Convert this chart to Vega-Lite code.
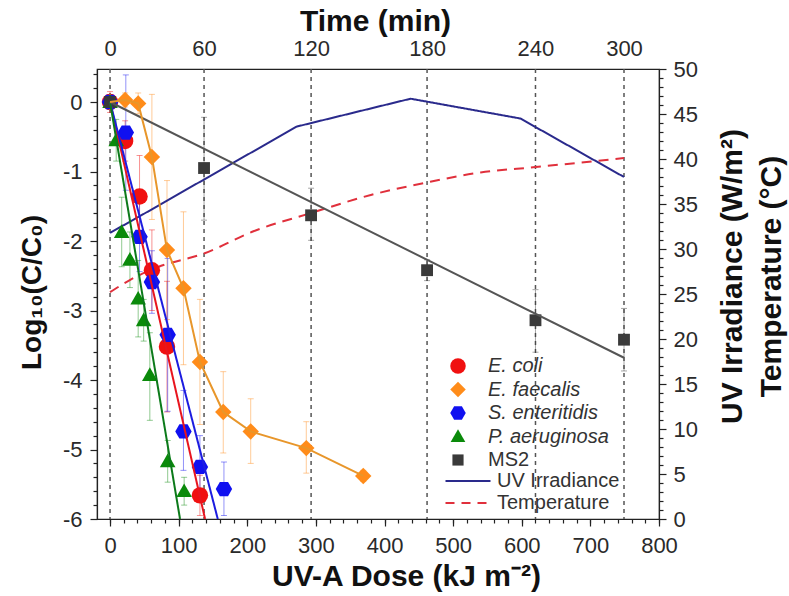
{
  "$schema": "https://vega.github.io/schema/vega-lite/v6.json",
  "width": 562,
  "height": 450,
  "autosize": {"type": "none"},
  "padding": {"left": 97, "top": 69, "right": 130, "bottom": 77},
  "background": "white",
  "config": {
    "font": "Liberation Sans",
    "view": {"stroke": "#222", "strokeWidth": 1.2},
    "axis": {
      "grid": false,
      "labelFlush": false,
      "labelOverlap": false,
      "labelFont": "Liberation Sans",
      "labelFontSize": 22,
      "labelColor": "#2a2a2a",
      "titleFont": "Liberation Sans",
      "titleFontSize": 30,
      "titleFontWeight": "bold",
      "titleColor": "#111",
      "domainColor": "#222",
      "tickColor": "#222",
      "tickWidth": 1.2,
      "domainWidth": 1.2
    },
    "legend": {"labelFont": "Liberation Sans", "labelFontSize": 20, "labelColor": "#333", "padding": 0}
  },
  "datasets": {
    "times": [
      {"time": 0, "dose": 0},
      {"time": 60, "dose": 137},
      {"time": 120, "dose": 293},
      {"time": 180, "dose": 462},
      {"time": 240, "dose": 620},
      {"time": 300, "dose": 749}
    ],
    "obs": [
      {"org": "E. coli", "dose": 0, "logr": 0, "lo": -0.15, "hi": 0.15},
      {"org": "E. coli", "dose": 22, "logr": -0.56, "lo": -0.85, "hi": -0.27},
      {"org": "E. coli", "dose": 43, "logr": -1.36, "lo": -1.95, "hi": -0.77},
      {"org": "E. coli", "dose": 61, "logr": -2.42, "lo": -3.0, "hi": -1.84},
      {"org": "E. coli", "dose": 83, "logr": -3.52, "lo": -4.46, "hi": -2.58},
      {"org": "E. coli", "dose": 131, "logr": -5.66, "lo": -5.95, "hi": -5.37},
      {"org": "E. faecalis", "dose": 0, "logr": 0, "lo": -0.1, "hi": 0.1},
      {"org": "E. faecalis", "dose": 22, "logr": 0.03, "lo": -0.07, "hi": 0.13},
      {"org": "E. faecalis", "dose": 41, "logr": -0.02, "lo": -0.17, "hi": 0.13},
      {"org": "E. faecalis", "dose": 61, "logr": -0.79, "lo": -1.69, "hi": 0.11},
      {"org": "E. faecalis", "dose": 83, "logr": -2.13, "lo": -3.13, "hi": -1.13},
      {"org": "E. faecalis", "dose": 107, "logr": -2.68, "lo": -3.78, "hi": -1.58},
      {"org": "E. faecalis", "dose": 131, "logr": -3.74, "lo": -4.64, "hi": -2.84},
      {"org": "E. faecalis", "dose": 165, "logr": -4.46, "lo": -5.05, "hi": -3.88},
      {"org": "E. faecalis", "dose": 205, "logr": -4.74, "lo": -5.2, "hi": -4.27},
      {"org": "E. faecalis", "dose": 286, "logr": -4.98, "lo": -5.34, "hi": -4.6},
      {"org": "E. faecalis", "dose": 369, "logr": -5.38, "lo": -5.46, "hi": -5.3},
      {"org": "S. enteritidis", "dose": 0, "logr": 0, "lo": -0.1, "hi": 0.1},
      {"org": "S. enteritidis", "dose": 23, "logr": -0.44, "lo": -1.27, "hi": 0.39},
      {"org": "S. enteritidis", "dose": 43, "logr": -1.94, "lo": -2.44, "hi": -1.44},
      {"org": "S. enteritidis", "dose": 61, "logr": -2.59, "lo": -3.04, "hi": -2.14},
      {"org": "S. enteritidis", "dose": 84, "logr": -3.35, "lo": -4.45, "hi": -2.25},
      {"org": "S. enteritidis", "dose": 107, "logr": -4.74, "lo": -5.3, "hi": -4.15},
      {"org": "S. enteritidis", "dose": 131, "logr": -5.25, "lo": -5.7, "hi": -4.8},
      {"org": "S. enteritidis", "dose": 166, "logr": -5.57, "lo": -5.95, "hi": -5.18},
      {"org": "P. aeruginosa", "dose": 0, "logr": 0, "lo": -0.1, "hi": 0.1},
      {"org": "P. aeruginosa", "dose": 9, "logr": -0.55, "lo": -0.85, "hi": -0.25},
      {"org": "P. aeruginosa", "dose": 17, "logr": -1.87, "lo": -2.37, "hi": -1.37},
      {"org": "P. aeruginosa", "dose": 29, "logr": -2.27, "lo": -2.67, "hi": -1.87},
      {"org": "P. aeruginosa", "dose": 41, "logr": -2.83, "lo": -3.38, "hi": -2.28},
      {"org": "P. aeruginosa", "dose": 49, "logr": -3.14, "lo": -3.44, "hi": -2.84},
      {"org": "P. aeruginosa", "dose": 58, "logr": -3.93, "lo": -4.58, "hi": -3.32},
      {"org": "P. aeruginosa", "dose": 84, "logr": -5.17, "lo": -5.47, "hi": -4.87},
      {"org": "P. aeruginosa", "dose": 108, "logr": -5.6, "lo": -5.8, "hi": -5.4},
      {"org": "MS2", "dose": 0, "logr": 0, "lo": -0.1, "hi": 0.1},
      {"org": "MS2", "dose": 137, "logr": -0.95, "lo": -1.7, "hi": -0.22},
      {"org": "MS2", "dose": 293, "logr": -1.63, "lo": -1.99, "hi": -1.24},
      {"org": "MS2", "dose": 462, "logr": -2.42, "lo": -2.57, "hi": -2.27},
      {"org": "MS2", "dose": 620, "logr": -3.14, "lo": -3.6, "hi": -2.7},
      {"org": "MS2", "dose": 749, "logr": -3.42, "lo": -3.87, "hi": -2.97}
    ],
    "fits": [
      {"org": "E. coli", "dose": 0, "logr": 0},
      {"org": "E. coli", "dose": 138.5, "logr": -6},
      {"org": "S. enteritidis", "dose": 0, "logr": 0},
      {"org": "S. enteritidis", "dose": 157, "logr": -6},
      {"org": "P. aeruginosa", "dose": 0, "logr": 0},
      {"org": "P. aeruginosa", "dose": 102, "logr": -6},
      {"org": "MS2", "dose": 0, "logr": 0},
      {"org": "MS2", "dose": 749, "logr": -3.68}
    ],
    "env": [
      {"measure": "UV Irradiance", "dose": 0, "value": 31.8},
      {"measure": "UV Irradiance", "dose": 40, "value": 33.5},
      {"measure": "UV Irradiance", "dose": 272, "value": 43.6},
      {"measure": "UV Irradiance", "dose": 438, "value": 46.7},
      {"measure": "UV Irradiance", "dose": 598, "value": 44.5},
      {"measure": "UV Irradiance", "dose": 749, "value": 38.0},
      {"measure": "Temperature", "dose": 0, "value": 25.2},
      {"measure": "Temperature", "dose": 30, "value": 26.6},
      {"measure": "Temperature", "dose": 70, "value": 28.0},
      {"measure": "Temperature", "dose": 137, "value": 29.5},
      {"measure": "Temperature", "dose": 210, "value": 32.0},
      {"measure": "Temperature", "dose": 293, "value": 34.0},
      {"measure": "Temperature", "dose": 380, "value": 36.0},
      {"measure": "Temperature", "dose": 462, "value": 37.4},
      {"measure": "Temperature", "dose": 540, "value": 38.5},
      {"measure": "Temperature", "dose": 620, "value": 39.1},
      {"measure": "Temperature", "dose": 749, "value": 40.1}
    ]
  },
  "layer": [
    {
      "data": {"name": "times"},
      "mark": {"type": "rule", "color": "#555", "strokeDash": [4, 4], "strokeWidth": 1.5},
      "encoding": {
        "x": {
          "field": "dose", "type": "quantitative",
          "scale": {"domain": [-19, 800], "nice": false, "zero": false},
          "axis": {
            "orient": "top", "title": "Time (min)",
            "values": [0, 137, 293, 462, 620, 749],
            "labelExpr": "datum.value == 0 ? '0' : datum.value == 137 ? '60' : datum.value == 293 ? '120' : datum.value == 462 ? '180' : datum.value == 620 ? '240' : '300'",
            "ticks": false, "tickSize": 0, "domain": false,
            "labelPadding": 14, "labelBaseline": "alphabetic",
            "titleX": 278, "titleY": -39, "titleBaseline": "alphabetic", "titleAlign": "center"
          }
        }
      }
    },
    {
      "data": {"name": "obs"},
      "mark": {"type": "rule", "strokeWidth": 1, "opacity": 0.45},
      "encoding": {
        "x": {
          "field": "dose", "type": "quantitative",
          "scale": {"domain": [-19, 800], "nice": false, "zero": false},
          "axis": {
            "orient": "bottom", "title": null, "labels": false, "domain": false, "tickSize": 4,
            "values": [0, 20, 40, 60, 80, 100, 120, 140, 160, 180, 200, 220, 240, 260, 280, 300, 320, 340, 360, 380, 400, 420, 440, 460, 480, 500, 520, 540, 560, 580, 600, 620, 640, 660, 680, 700, 720, 740, 760, 780, 800]
          }
        },
        "y": {
          "field": "lo", "type": "quantitative",
          "scale": {"domain": [-6, 0.475], "nice": false, "zero": false},
          "axis": {
            "orient": "left", "title": null, "labels": false, "domain": false, "tickSize": 4,
            "values": [-5.8, -5.6, -5.4, -5.2, -4.8, -4.6, -4.4, -4.2, -3.8, -3.6, -3.4, -3.2, -2.8, -2.6, -2.4, -2.2, -1.8, -1.6, -1.4, -1.2, -0.8, -0.6, -0.4, -0.2, 0.2, 0.4]
          }
        },
        "y2": {"field": "hi"},
        "color": {
          "field": "org", "type": "nominal",
          "scale": {"domain": ["E. coli", "E. faecalis", "S. enteritidis", "P. aeruginosa", "MS2"], "range": ["#f01010", "#ff8c1a", "#1010f0", "#0a8a0a", "#3a3a3a"]},
          "legend": null
        }
      }
    },
    {
      "data": {"name": "obs"},
      "transform": [{"fold": ["lo", "hi"], "as": ["end", "val"]}],
      "mark": {"type": "tick", "orient": "horizontal", "size": 6, "thickness": 1, "opacity": 0.45},
      "encoding": {
        "x": {"field": "dose", "type": "quantitative", "scale": {"domain": [-19, 800], "nice": false, "zero": false}, "axis": null},
        "y": {"field": "val", "type": "quantitative", "scale": {"domain": [-6, 0.475], "nice": false, "zero": false}, "axis": null},
        "color": {
          "field": "org", "type": "nominal",
          "scale": {"domain": ["E. coli", "E. faecalis", "S. enteritidis", "P. aeruginosa", "MS2"], "range": ["#f01010", "#ff8c1a", "#1010f0", "#0a8a0a", "#3a3a3a"]},
          "legend": null
        }
      }
    },
    {
      "data": {"name": "env"},
      "transform": [{"filter": "datum.measure == 'Temperature'"}],
      "mark": {"type": "line", "color": "#e0303c", "strokeDash": [10, 7], "strokeWidth": 2, "interpolate": "monotone"},
      "encoding": {
        "x": {"field": "dose", "type": "quantitative", "scale": {"domain": [-19, 800], "nice": false, "zero": false}, "axis": null},
        "y": {
          "field": "value", "type": "quantitative",
          "scale": {"domain": [0, 50], "nice": false, "zero": false},
          "axis": {
            "orient": "right", "title": null, "labels": false, "domain": false, "tickSize": 4,
            "values": [1, 2, 3, 4, 6, 7, 8, 9, 11, 12, 13, 14, 16, 17, 18, 19, 21, 22, 23, 24, 26, 27, 28, 29, 31, 32, 33, 34, 36, 37, 38, 39, 41, 42, 43, 44, 46, 47, 48, 49]
          }
        }
      }
    },
    {
      "data": {"name": "env"},
      "transform": [{"filter": "datum.measure == 'UV Irradiance'"}],
      "mark": {"type": "line", "strokeWidth": 2},
      "encoding": {
        "x": {"field": "dose", "type": "quantitative", "scale": {"domain": [-19, 800], "nice": false, "zero": false}, "axis": null},
        "y": {
          "field": "value", "type": "quantitative",
          "scale": {"domain": [0, 50], "nice": false, "zero": false},
          "axis": {
            "orient": "right",
            "title": ["UV Irradiance (W/m²)", "Temperature (°C)"],
            "values": [0, 5, 10, 15, 20, 25, 30, 35, 40, 45, 50],
            "tickSize": 7, "labelPadding": 7,
            "titleAngle": 270, "titleX": 82, "titleY": 207, "titleAlign": "center", "titleBaseline": "alphabetic", "titleLineHeight": 39
          }
        },
        "color": {
          "field": "measure", "type": "nominal",
          "scale": {"domain": ["UV Irradiance", "Temperature"], "range": ["#2a2a8c", "#e0303c"]},
          "legend": {"orient": "none", "legendX": 346, "legendY": 402, "title": null, "symbolType": "M-1,0H5", "symbolSize": 225, "symbolStrokeWidth": 2, "labelOffset": 34, "rowPadding": 2}
        },
        "strokeDash": {
          "field": "measure", "type": "nominal",
          "scale": {"domain": ["UV Irradiance", "Temperature"], "range": [[1, 0], [9, 7]]},
          "legend": {"orient": "none", "legendX": 346, "legendY": 402, "title": null, "symbolType": "M-1,0H5", "symbolSize": 225, "symbolStrokeWidth": 2, "labelOffset": 34, "rowPadding": 2}
        }
      }
    },
    {
      "data": {"name": "obs"},
      "mark": {"type": "point", "filled": true, "opacity": 1, "size": 270},
      "encoding": {
        "x": {
          "field": "dose", "type": "quantitative",
          "scale": {"domain": [-19, 800], "nice": false, "zero": false},
          "axis": {
            "orient": "bottom", "title": "UV-A Dose (kJ m⁻²)",
            "values": [0, 100, 200, 300, 400, 500, 600, 700, 800],
            "tickSize": 7, "labelPadding": 9,
            "titleX": 309, "titleY": 66, "titleBaseline": "alphabetic", "titleAlign": "center"
          }
        },
        "y": {
          "field": "logr", "type": "quantitative",
          "scale": {"domain": [-6, 0.475], "nice": false, "zero": false},
          "axis": {
            "orient": "left", "title": "Log₁₀(C/C₀)",
            "values": [-6, -5, -4, -3, -2, -1, 0],
            "labelExpr": "'' + datum.value",
            "tickSize": 7, "labelPadding": 8, "titleFontSize": 28,
            "titleAngle": 270, "titleX": -57, "titleY": 223, "titleAlign": "center", "titleBaseline": "alphabetic"
          }
        },
        "color": {
          "field": "org", "type": "nominal",
          "scale": {"domain": ["E. coli", "E. faecalis", "S. enteritidis", "P. aeruginosa", "MS2"], "range": ["#f01010", "#ff8c1a", "#1010f0", "#0a8a0a", "#3a3a3a"]},
          "legend": {"orient": "none", "legendX": 351, "legendY": 287, "title": null, "symbolSize": 240, "labelOffset": 20, "rowPadding": 3.5, "symbolStrokeWidth": 0,
            "labelFontStyle": {"expr": "datum.label == 'MS2' ? 'normal' : 'italic'"}}
        },
        "shape": {
          "field": "org", "type": "nominal",
          "scale": {
            "domain": ["E. coli", "E. faecalis", "S. enteritidis", "P. aeruginosa", "MS2"],
            "range": ["circle", "diamond", "M-1,0L-0.5,-0.87L0.5,-0.87L1,0L0.5,0.87L-0.5,0.87Z", "M0,-0.95L0.95,0.72L-0.95,0.72Z", "M-0.72,-0.72H0.72V0.72H-0.72Z"]
          },
          "legend": {"orient": "none", "legendX": 351, "legendY": 287, "title": null, "symbolSize": 240, "labelOffset": 20, "rowPadding": 3.5, "symbolStrokeWidth": 0,
            "labelFontStyle": {"expr": "datum.label == 'MS2' ? 'normal' : 'italic'"}}
        }
      }
    },
    {
      "data": {"name": "fits"},
      "mark": {"type": "line", "strokeWidth": 2},
      "encoding": {
        "x": {"field": "dose", "type": "quantitative", "scale": {"domain": [-19, 800], "nice": false, "zero": false}, "axis": null},
        "y": {"field": "logr", "type": "quantitative", "scale": {"domain": [-6, 0.475], "nice": false, "zero": false}, "axis": null},
        "color": {
          "field": "org", "type": "nominal",
          "scale": {"domain": ["E. coli", "S. enteritidis", "P. aeruginosa", "MS2"], "range": ["#e8141e", "#1c1ce0", "#0c7a1a", "#555555"]},
          "legend": null
        }
      }
    },
    {
      "data": {"name": "obs"},
      "transform": [{"filter": "datum.org == 'E. faecalis'"}],
      "mark": {"type": "line", "color": "#e8962a", "strokeWidth": 2},
      "encoding": {
        "x": {"field": "dose", "type": "quantitative", "scale": {"domain": [-19, 800], "nice": false, "zero": false}, "axis": null},
        "y": {"field": "logr", "type": "quantitative", "scale": {"domain": [-6, 0.475], "nice": false, "zero": false}, "axis": null}
      }
    }
  ],
  "resolve": {
    "scale": {"y": "independent", "color": "independent", "shape": "independent", "strokeDash": "independent"},
    "axis": {"x": "independent", "y": "independent"}
  }
}
